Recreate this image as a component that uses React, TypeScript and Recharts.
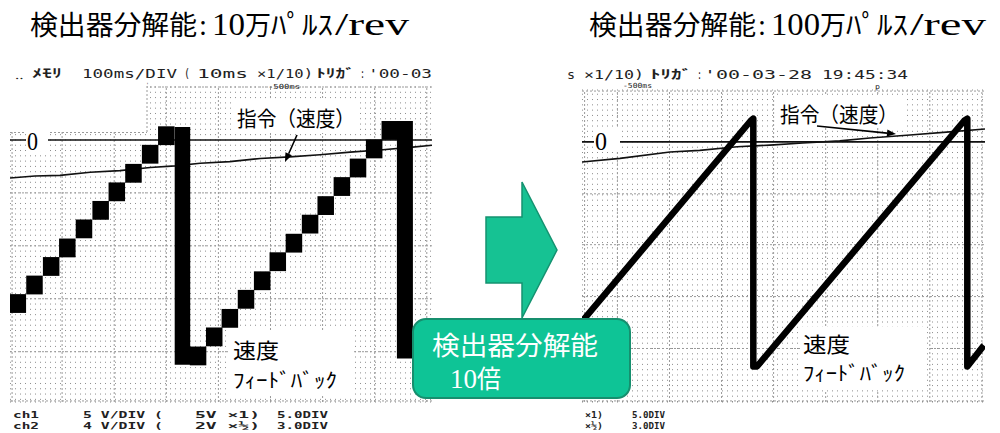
import React from 'react';
import { ScatterChart, Scatter, XAxis, YAxis, CartesianGrid, ReferenceLine } from 'recharts';

// time in ms (10 per div), speed in screen units (10 per div, 0 = zero line)

// left scope: 10万パルス/rev
const leftCmdT = [0, 4.8, 9.6, 15.4, 21.1, 26.9, 31.7, 36.5, 42.2, 48.0, 53.7, 59.5, 65.3, 71.0, 76.8, 81];
const leftCmdV = [-7.2, -6.8, -6.7, -6.1, -5.8, -5.2, -4.9, -4.4, -4.1, -3.5, -3.2, -2.8, -2.3, -1.9, -1.4, -1.0];
const stepsAT = [1.5, 4.7, 7.9, 11.0, 14.2, 17.4, 20.5, 23.7, 26.9, 30.0];
const stepsAV = [-30.9, -27.4, -23.9, -20.4, -16.8, -13.3, -9.8, -6.3, -2.7, 0.8];
const stepsBT = [36.1, 39.2, 42.2, 45.3, 48.4, 51.4, 54.5, 57.6, 60.6, 63.7, 66.8, 69.9, 72.9];
const stepsBV = [-40.8, -37.2, -33.7, -30.1, -26.6, -23.0, -19.5, -15.9, -12.4, -8.8, -5.3, -1.7, 1.8];
const dropAT = [33.1, 33.1];
const dropAV = [2.45, -42.45];
const dropBT = [75.8, 75.8];
const dropBV = [3.6, -41.3];

// right scope: 100万パルス/rev
const rightCmdT = [0, 7.3, 16.9, 22.6, 29.8, 36.1, 42.4, 49.5, 55.3, 63.0, 70.6, 77.4];
const rightCmdV = [-3.8, -3.1, -1.9, -1.6, -0.9, -0.6, -0.2, 0.2, 0.75, 1.3, 1.9, 2.45];
const sawT = [0, 32.4, 32.9, 32.9, 33.6, 73.4, 74.0, 74.0, 77.2];
const sawV = [-33.9, 4.0, 4.4, -42.4, -42.4, 4.0, 4.4, -42.4, -38.4];

// grid divisions
const leftMajorX = [0.4, 10, 20, 30, 40, 50, 60, 70, 80];
const leftMajorY = [10, -10, -20, -30, -40, -49.3];
const rightMajorX = [0.5, 6.8, 16.8, 26.8, 36.8, 46.8, 56.8, 66.8, 76.8];
const rightMajorY = [9.6, -9.8, -19.4, -29.2, -39.0, -48.9];
const leftMinorY = Array.from({ length: 60 }, (_, i) => i - 49);
const rightMinorY = Array.from({ length: 59 }, (_, i) => i - 49);

const zip = (t: number[], v: number[]) => t.map((x, i) => ({ t: x, v: v[i] }));

const cjk = "'Noto Sans CJK JP', sans-serif";
const serif = "'Liberation Serif', serif";
const mono = "'DejaVu Sans Mono', monospace";

const Block = (p: any) => (
  <rect x={p.cx - 8.25} y={p.cy - 9.4} width={16.5} height={18.8} fill="#000" />
);
const NoDot = () => <g />;

function Scope({ left, width, margin, xDomain, yDomain, minorY, majorX, majorY, children }: any) {
  return (
    <div style={{ position: 'absolute', left, top: 0 }}>
      <ScatterChart width={width} height={433} margin={margin}>
        <XAxis type="number" dataKey="t" domain={xDomain} allowDataOverflow hide />
        <YAxis type="number" dataKey="v" domain={yDomain} ticks={minorY} interval={0} allowDataOverflow hide />
        <CartesianGrid vertical={false} stroke="#8c8c8c" strokeDasharray="1 4" />
        {majorX.map((x: number) => (
          <ReferenceLine key={'x' + x} x={x} stroke="#9a9a9a" strokeDasharray="2 2" />
        ))}
        {majorY.map((y: number) => (
          <ReferenceLine key={'y' + y} y={y} stroke="#9a9a9a" strokeDasharray="2 2" />
        ))}
        <ReferenceLine y={0} stroke="#111" strokeWidth={1.6} />
        {children}
      </ScatterChart>
    </div>
  );
}

function Txt({ x, y, w, size, font, fill = '#000', weight, adjust = 'spacingAndGlyphs', children }: any) {
  return (
    <text x={x} y={y} fontSize={size} fontFamily={font} fill={fill} fontWeight={weight}
      textLength={w} lengthAdjust={adjust}>
      {children}
    </text>
  );
}

function Arrow({ x1, y1, x2, y2 }: any) {
  const len = Math.hypot(x2 - x1, y2 - y1);
  const dx = (x2 - x1) / len, dy = (y2 - y1) / len;
  const bx = x2 - dx * 9, by = y2 - dy * 9;
  const pts = `${x2},${y2} ${bx - dy * 3.5},${by + dx * 3.5} ${bx + dy * 3.5},${by - dx * 3.5}`;
  return (
    <g>
      <line x1={x1} y1={y1} x2={bx} y2={by} stroke="#000" strokeWidth={1.6} />
      <polygon points={pts} fill="#000" />
    </g>
  );
}

function Overlay() {
  return (
    <svg width={1000} height={433} style={{ position: 'absolute', left: 0, top: 0, pointerEvents: 'none' }}>
      {/* titles */}
      <Txt x={30} y={35} w={167} size={27} font={cjk}>検出器分解能</Txt>
      <Txt x={199} y={35} w={8} size={30} font={serif}>:</Txt>
      <Txt x={212} y={35} w={33} size={32} font={serif}>10</Txt>
      <Txt x={245} y={35} w={26} size={27} font={cjk}>万</Txt>
      <Txt x={271} y={35} w={62} size={27} font={cjk}>ﾊﾟﾙｽ</Txt>
      <Txt x={335} y={35} w={74} size={32} font={serif}>/rev</Txt>

      <Txt x={589} y={35} w={167} size={27} font={cjk}>検出器分解能</Txt>
      <Txt x={758} y={35} w={8} size={30} font={serif}>:</Txt>
      <Txt x={771} y={35} w={49} size={32} font={serif}>100</Txt>
      <Txt x={820} y={35} w={26} size={27} font={cjk}>万</Txt>
      <Txt x={846} y={35} w={62} size={27} font={cjk}>ﾊﾟﾙｽ</Txt>
      <Txt x={910} y={35} w={76} size={32} font={serif}>/rev</Txt>

      {/* cut-out corner of the left screen */}
      <rect x={8} y={84} width={139} height={48} fill="#fff" />
      <line x1={147} y1={86} x2={147} y2={132} stroke="#9a9a9a" strokeDasharray="2 2" />
      <line x1={10} y1={132.5} x2={147} y2={132.5} stroke="#9a9a9a" strokeDasharray="2 2" />

      {/* scope header */}
      <Txt x={15} y={79} w={8} size={10} font={mono} fill="#222">‥</Txt>
      <Txt x={32} y={78} w={30} size={12} font={cjk} fill="#222" weight={700}>ﾒﾓﾘ</Txt>
      <Txt x={82} y={78} w={95} size={13} font={mono} fill="#222">100ms/DIV</Txt>
      <Txt x={184} y={78} w={6} size={13} font={mono} fill="#222">(</Txt>
      <Txt x={197} y={78} w={51} size={13} font={mono} fill="#222">10ms</Txt>
      <Txt x={257} y={78} w={56} size={13} font={mono} fill="#222">×1/10)</Txt>
      <Txt x={316} y={78} w={39} size={12} font={cjk} fill="#222" weight={700}>ﾄﾘｶﾞ</Txt>
      <Txt x={360} y={78} w={5} size={13} font={mono} fill="#222">:</Txt>
      <Txt x={368} y={78} w={64} size={13} font={mono} fill="#222">'00-03</Txt>
      <Txt x={268} y={89} w={32} size={7} font={mono} fill="#222">-500ms</Txt>
      <Txt x={146} y={87} w={3} size={6} font={mono} fill="#222">'</Txt>

      <Txt x={567} y={79} w={8} size={13} font={mono} fill="#222">s</Txt>
      <Txt x={584} y={79} w={60} size={13} font={mono} fill="#222">×1/10)</Txt>
      <Txt x={650} y={79} w={42} size={12} font={cjk} fill="#222" weight={700}>ﾄﾘｶﾞ</Txt>
      <Txt x={697} y={79} w={5} size={13} font={mono} fill="#222">:</Txt>
      <Txt x={704} y={79} w={108} size={13} font={mono} fill="#222">'00-03-28</Txt>
      <Txt x={822} y={79} w={86} size={13} font={mono} fill="#222">19:45:34</Txt>
      <Txt x={623} y={88} w={29} size={7} font={mono} fill="#222">-500ms</Txt>
      <Txt x={875} y={89} w={5} size={7} font={mono} fill="#222">p</Txt>

      {/* scope footer */}
      <Txt x={13} y={418} w={26} size={9.5} font={mono} fill="#222" weight={700}>ch1</Txt>
      <Txt x={83} y={418} w={80} size={9.5} font={mono} fill="#222" weight={700}>5 V/DIV (</Txt>
      <Txt x={195} y={418} w={65} size={9.5} font={mono} fill="#222" weight={700}>5V ×1)</Txt>
      <Txt x={277} y={418} w={51} size={9.5} font={mono} fill="#222" weight={700}>5.0DIV</Txt>
      <Txt x={13} y={428.5} w={26} size={9.5} font={mono} fill="#222" weight={700}>ch2</Txt>
      <Txt x={83} y={428.5} w={80} size={9.5} font={mono} fill="#222" weight={700}>4 V/DIV (</Txt>
      <Txt x={195} y={428.5} w={65} size={9.5} font={mono} fill="#222" weight={700}>2V ×½)</Txt>
      <Txt x={277} y={428.5} w={51} size={9.5} font={mono} fill="#222" weight={700}>3.0DIV</Txt>
      <Txt x={585} y={418} w={18} size={9.5} font={mono} fill="#222" weight={700}>×1)</Txt>
      <Txt x={632} y={418} w={33} size={9.5} font={mono} fill="#222" weight={700}>5.0DIV</Txt>
      <Txt x={585} y={428.5} w={18} size={9.5} font={mono} fill="#222" weight={700}>×½)</Txt>
      <Txt x={632} y={428.5} w={33} size={9.5} font={mono} fill="#222" weight={700}>3.0DIV</Txt>

      {/* zero markers */}
      <rect x={26} y={128} width={22} height={23} fill="#fff" />
      <Txt x={27} y={150} w={11} size={25} font={serif}>0</Txt>
      <rect x={594} y={128} width={26} height={23} fill="#fff" />
      <Txt x={595} y={150} w={12} size={26} font={serif}>0</Txt>

      {/* annotations */}
      <rect x={232} y={100} width={128} height={33} fill="#fff" />
      <Txt x={237} y={125.5} w={118} size={21} font={cjk}>指令（速度）</Txt>
      <Arrow x1={297} y1={135} x2={285} y2={162} />
      <rect x={775} y={95} width={130} height={32} fill="#fff" />
      <Txt x={780} y={121.5} w={118} size={21} font={cjk}>指令（速度）</Txt>
      <Arrow x1={817} y1={126} x2={896} y2={134} />

      <rect x={230} y={330} width={123} height={66} fill="#fff" />
      <Txt x={233} y={358} w={46} size={21} font={cjk}>速度</Txt>
      <Txt x={233} y={388} w={104} size={20} font={cjk}>ﾌｨｰﾄﾞﾊﾞｯｸ</Txt>
      <rect x={800} y={327} width={127} height={63} fill="#fff" />
      <Txt x={803} y={352} w={47} size={21} font={cjk}>速度</Txt>
      <Txt x={803} y={381} w={102} size={20} font={cjk}>ﾌｨｰﾄﾞﾊﾞｯｸ</Txt>

      {/* green arrow and caption */}
      <polygon points="486,217 522,217 522,182 557,250 522,318 522,283 486,283"
        fill="#16c293" stroke="#149270" strokeWidth={1.5} />
      <rect x={413} y={319} width={217} height={79} rx={13} fill="#0ec496" stroke="#168f6e" strokeWidth={2} />
      <Txt x={432} y={355} w={166} size={26} font={cjk} fill="#fff">検出器分解能</Txt>
      <Txt x={450} y={388} w={27} size={27} font={serif} fill="#fff">10</Txt>
      <Txt x={477} y={388} w={24} size={25} font={cjk} fill="#fff">倍</Txt>
    </svg>
  );
}

export default function App() {
  return (
    <div style={{ position: 'absolute', left: 0, top: 0, width: 1000, height: 433, background: '#fff', overflow: 'hidden' }}>
      <Scope left={0} width={440} margin={{ top: 87, right: 8, bottom: 31, left: 10 }}
        xDomain={[0, 81]} yDomain={[-49.5, 10]} minorY={leftMinorY} majorX={leftMajorX} majorY={leftMajorY}>
        <Scatter data={zip(leftCmdT, leftCmdV)} fill="#000" shape={NoDot}
          line={{ stroke: '#111', strokeWidth: 1.6 }} isAnimationActive={false} />
        <Scatter data={zip(dropAT, dropAV)} fill="#000" shape={NoDot}
          line={{ stroke: '#000', strokeWidth: 15.5 }} isAnimationActive={false} />
        <Scatter data={zip(dropBT, dropBV)} fill="#000" shape={NoDot}
          line={{ stroke: '#000', strokeWidth: 16 }} isAnimationActive={false} />
        <Scatter data={zip(stepsAT, stepsAV)} fill="#000" shape={Block} isAnimationActive={false} />
        <Scatter data={zip(stepsBT, stepsBV)} fill="#000" shape={Block} isAnimationActive={false} />
      </Scope>
      <Scope left={570} width={430} margin={{ top: 90, right: 15, bottom: 31, left: 12 }}
        xDomain={[0, 77.4]} yDomain={[-49.1, 9.8]} minorY={rightMinorY} majorX={rightMajorX} majorY={rightMajorY}>
        <Scatter data={zip(rightCmdT, rightCmdV)} fill="#000" shape={NoDot}
          line={{ stroke: '#111', strokeWidth: 1.6 }} isAnimationActive={false} />
        <Scatter data={zip(sawT, sawV)} fill="#000" shape={NoDot}
          line={{ stroke: '#000', strokeWidth: 6.5, strokeLinejoin: 'round' }} isAnimationActive={false} />
      </Scope>
      <Overlay />
    </div>
  );
}
